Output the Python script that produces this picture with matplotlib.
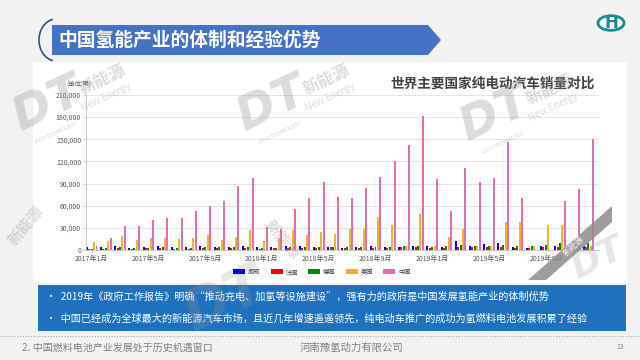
import matplotlib
matplotlib.use('Agg')
import matplotlib.pyplot as plt
from matplotlib.patches import Polygon, Rectangle, Arc, Circle, Patch
from matplotlib.lines import Line2D
from matplotlib.ticker import FuncFormatter

plt.rcParams['font.family'] = ['Noto Sans CJK SC', 'DejaVu Sans']

# monthly BEV sales, Jan 2017 .. Dec 2019 (vehicles)
months = [f'{y}年{m}月' for y in (2017, 2018, 2019) for m in range(1, 13)]
tick_labels = months[::4]

norway = [4500, 3500, 5500, 3000, 3500, 5500, 3500, 4500, 5500, 4000, 4500, 6000,
          4000, 3500, 5500, 5000, 4500, 4000, 3000, 4500, 5000, 4000, 4500, 5000,
          5500, 4000, 12500, 5500, 7500, 9000, 3500, 3000, 5000, 5000, 6000, 6000]
france = [2000, 2000, 2500, 1800, 2200, 2500, 1800, 1500, 2500, 2500, 2800, 2500,
          2000, 2200, 3000, 2800, 3000, 3500, 2500, 2200, 3000, 3000, 3500, 3500,
          2800, 3200, 4500, 3800, 4000, 4200, 3000, 2200, 3500, 3800, 4000, 4500]
germany = [2000, 2500, 3500, 2500, 3000, 3500, 3000, 3000, 3500, 3500, 4000, 3500,
           2800, 3000, 4000, 3500, 4000, 4000, 4000, 3500, 4000, 4500, 5000, 5000,
           4500, 5000, 6500, 5500, 6000, 7000, 6000, 5500, 7000, 9000, 8500, 9500]
usa = [11000, 12500, 19000, 13500, 16500, 16500, 15000, 16500, 21000, 14000, 18000, 27000,
       11700, 16500, 27000, 20000, 25000, 22000, 29000, 29000, 45000, 34500, 6000, 49000,
       6000, 17000, 29000, 6000, 6000, 38000, 38000, 5000, 33500, 33500, 6000, 5000]
china = [5000, 16500, 32000, 33000, 40000, 44000, 43000, 53000, 59000, 67000, 87000, 98000,
         31000, 29000, 56000, 71000, 92000, 72000, 71000, 84000, 99000, 120000, 142000, 181000,
         96000, 53000, 111000, 92000, 97000, 147000, 70000, 0, 0, 67000, 83000, 150000]

series = [('挪威', norway, '#0000e6'), ('法国', france, '#ff0000'),
          ('德国', germany, '#008a00'), ('美国', usa, '#f0b429'),
          ('中国', china, '#e46cb2')]

W, H = 640, 360


def px(x, y):
    """pixel position (from top-left) to figure fraction"""
    return (x / W, 1 - y / H)


fig = plt.figure(figsize=(6.4, 3.6), dpi=100)
fig.patch.set_facecolor('#f2f2f2')

# white content panel
fig.add_artist(Rectangle(px(33, 283), 594 / W, 221 / H, transform=fig.transFigure,
                         facecolor='white', edgecolor='none', zorder=0))

# title banner
banner = [px(52, 25), px(428, 25), px(441, 40), px(428, 55), px(52, 55)]
fig.add_artist(Polygon(banner, closed=True, transform=fig.transFigure,
                       facecolor='#4472c4', edgecolor='none'))
fig.add_artist(Arc(px(56, 40), 34 / W, 42 / H, theta1=95, theta2=265,
                   transform=fig.transFigure, color='#2f4f8f', lw=1.2))
fig.text(*px(58, 40), '中国氢能产业的体制和经验优势', color='white', fontsize=13.5,
         fontweight='bold', va='center', ha='left')

# logo top right
fig.add_artist(Circle(px(611, 23), 13 / W, transform=fig.transFigure,
                      facecolor='white', edgecolor='#168a96', lw=2))
fig.text(*px(611, 23), 'H', color='#168a96', fontsize=12, fontweight='bold',
         ha='center', va='center', family='DejaVu Sans')

# chart
ax = fig.add_axes([86 / W, 1 - 250 / H, 513 / W, 155 / H])
ax.set_facecolor('none')
x = list(range(len(months)))
offsets = [-0.34, -0.17, 0.0, 0.17, 0.34]
for (name, vals, color), off in zip(series, offsets):
    ax.bar([i + off for i in x], vals, width=0.14, color=color, linewidth=0, label=name)

ax.set_xlim(-0.4, 35.75)
ax.set_ylim(0, 210000)
ax.set_yticks(range(0, 210001, 30000))
ax.yaxis.set_major_formatter(FuncFormatter(lambda v, p: f'{int(v):,}'))
ax.set_xticks(x[::4])
ax.set_xticklabels(tick_labels)
ax.yaxis.grid(True, color='#dedede', lw=0.6)
ax.set_axisbelow(True)
for s in ('top', 'right'):
    ax.spines[s].set_visible(False)
for s in ('left', 'bottom'):
    ax.spines[s].set_color('#bfbfbf')
    ax.spines[s].set_linewidth(0.6)
ax.tick_params(length=2, width=0.5, color='#bfbfbf', labelsize=5, labelcolor='#595959', pad=1.5)

fig.text(*px(79, 85), '(单位:辆)', fontsize=4.5, color='#595959', ha='center', va='center')
fig.text(*px(493, 84), '世界主要国家纯电动汽车销量对比', fontsize=9.8, fontweight='bold',
         color='#404040', ha='center', va='center')

handles = [Patch(facecolor=c, edgecolor='none', label=n) for n, _, c in series]
fig.legend(handles=handles, loc='center', bbox_to_anchor=px(322, 272), ncol=5,
           frameon=False, fontsize=4.5, handlelength=1.9, handleheight=0.9,
           handletextpad=0.5, columnspacing=1.6, labelcolor='#404040')

# watermarks
def watermark(cx, cy, s=1.0):
    fig.text(*px(cx, cy), 'DT', fontsize=34 * s, fontweight='bold', style='italic',
             color='#9a9a9a', alpha=0.35, rotation=25, ha='center', va='center',
             family='DejaVu Sans', zorder=5)
    fig.text(*px(cx + 8 * s, cy + 28 * s), 'DATA TECHNOLOGY', fontsize=3.5 * s,
             color='#9a9a9a', alpha=0.45, rotation=25, ha='center', va='center', zorder=5)
    fig.text(*px(cx + 55 * s, cy - 25 * s), '新能源', fontsize=12 * s, fontweight='bold',
             color='#9a9a9a', alpha=0.35, rotation=25, ha='center', va='center', zorder=5)
    fig.text(*px(cx + 58 * s, cy - 8 * s), 'New Energy', fontsize=7 * s,
             color='#9a9a9a', alpha=0.35, rotation=25, ha='center', va='center', zorder=5)


watermark(48, 105)
watermark(272, 105)
watermark(495, 115)
fig.text(*px(282, 240), '新能源', fontsize=11, fontweight='bold', color='#9a9a9a',
         alpha=0.35, rotation=-50, ha='center', va='center', zorder=5)
fig.text(*px(26, 226), '新能源', fontsize=11, fontweight='bold', color='#9a9a9a',
         alpha=0.35, rotation=50, ha='center', va='center', zorder=5)
fig.text(*px(225, 300), 'DT', fontsize=40, fontweight='bold', style='italic', color='#9a9a9a',
         alpha=0.25, rotation=25, ha='center', va='center', family='DejaVu Sans', zorder=5)
fig.text(*px(598, 258), 'DT', fontsize=26, fontweight='bold', style='italic', color='#9a9a9a',
         alpha=0.25, rotation=25, ha='center', va='center', family='DejaVu Sans', zorder=5)

# diagonal ribbon bottom-right of chart
ribbon = [px(528, 280), px(546, 280), px(612, 222), px(612, 206)]
fig.add_artist(Polygon(ribbon, closed=True, transform=fig.transFigure,
                       facecolor='#8c8c8c', edgecolor='none', alpha=0.85, zorder=6))
fig.text(*px(574, 246), '新能源', fontsize=6, color='white', rotation=42,
         ha='center', va='center', zorder=7)

# bullet box
fig.add_artist(Rectangle(px(38, 331), 588 / W, 46 / H, transform=fig.transFigure,
                         facecolor='#1f70bd', edgecolor='none', zorder=1))
fig.text(*px(46, 297), '•  2019年《政府工作报告》明确“推动充电、加氢等设施建设”，强有力的政府是中国发展氢能产业的体制优势',
         color='white', fontsize=7.3, va='center', ha='left', zorder=2)
fig.text(*px(46, 319), '•  中国已经成为全球最大的新能源汽车市场，且近几年增速遥遥领先，纯电动车推广的成功为氢燃料电池发展积累了经验',
         color='white', fontsize=7.3, va='center', ha='left', zorder=2)

# footer
fig.add_artist(Line2D([0, 1], [px(0, 336)[1]] * 2, transform=fig.transFigure,
                      color='#a6a6a6', ls=(0, (1, 1.5)), lw=0.8))
fig.text(*px(22, 348), '2. 中国燃料电池产业发展处于历史机遇窗口', fontsize=7.2,
         color='#7f7f7f', ha='left', va='center')
fig.text(*px(352, 348), '河南豫氢动力有限公司', fontsize=7.5, color='#7f7f7f',
         ha='center', va='center')
fig.text(*px(620, 347), '13', fontsize=5, color='#7f7f7f', ha='center', va='center')

fig.savefig('out.png', dpi=100, facecolor=fig.get_facecolor())
